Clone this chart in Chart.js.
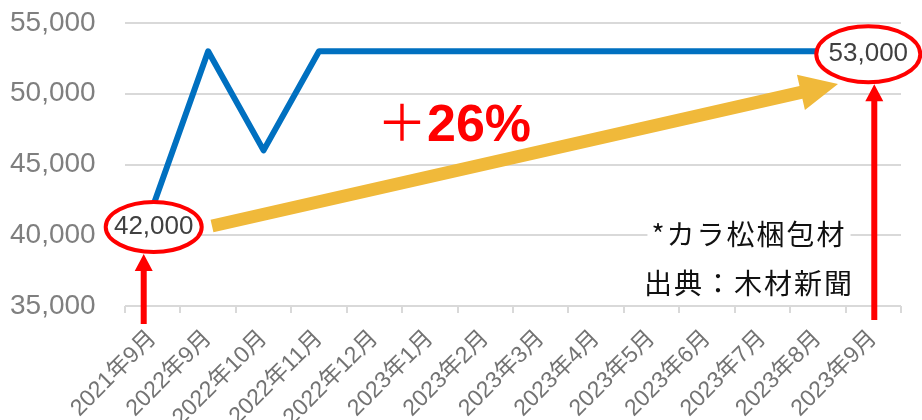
<!DOCTYPE html>
<html>
<head>
<meta charset="utf-8">
<script src="https://cdn.jsdelivr.net/npm/chart.js@4/dist/chart.umd.min.js"></script>
<style>
  html, body { margin: 0; padding: 0; background: #fff; }
  #wrap { width: 922px; height: 420px; }
</style>
</head>
<body>
<div id="wrap"><canvas id="price-chart"></canvas></div>
<script>
const months = ['2021年9月','2022年9月','2022年10月','2022年11月','2022年12月','2023年1月','2023年2月',
  '2023年3月','2023年4月','2023年5月','2023年6月','2023年7月','2023年8月','2023年9月'];
const prices = [42000, 53000, 46000, 53000, 53000, 53000, 53000, 53000, 53000, 53000, 53000, 53000, 53000, 53000];
const yTicks = [35000, 40000, 45000, 50000, 55000];
const labelled = [0, 13];
const notes = ['*カラ松梱包材', '出典：木材新聞'];
const growth = '26%';

const JP = '"Liberation Sans", Arial, "Noto Sans CJK JP", sans-serif';
const fmt = v => v.toLocaleString('en-US');

function arrow(ctx, x1, y1, x2, y2, shaft, headW, headL, color) {
  const ang = Math.atan2(y2 - y1, x2 - x1);
  const len = Math.hypot(x2 - x1, y2 - y1);
  ctx.save();
  ctx.translate(x1, y1);
  ctx.rotate(ang);
  ctx.fillStyle = color;
  ctx.beginPath();
  ctx.moveTo(0, -shaft / 2);
  ctx.lineTo(len - headL, -shaft / 2);
  ctx.lineTo(len - headL, -headW);
  ctx.lineTo(len, 0);
  ctx.lineTo(len - headL, headW);
  ctx.lineTo(len - headL, shaft / 2);
  ctx.lineTo(0, shaft / 2);
  ctx.closePath();
  ctx.fill();
  ctx.restore();
}

const annotate = {
  id: 'annotate',
  afterDatasetsDraw(chart) {
    const ctx = chart.ctx;
    const xs = chart.scales.x, ys = chart.scales.y;

    // yellow growth arrow
    arrow(ctx, 212, 226, 838, 84, 13, 18, 38, '#F0B93A');

    // labelled points: red ellipse + value + arrow from below
    const offs = { 0: [1, 20], 13: [-5, 3] };
    labelled.forEach(i => {
      const px = xs.getPixelForValue(i);
      const py = ys.getPixelForValue(prices[i]);
      const cx = px + offs[i][0], cy = py + offs[i][1];
      const rx = i === 0 ? 48 : 52, ry = i === 0 ? 25 : 28;
      ctx.save();
      ctx.beginPath();
      ctx.ellipse(cx, cy, rx, ry, 0, 0, Math.PI * 2);
      ctx.fillStyle = '#fff';
      ctx.fill();
      ctx.lineWidth = 4;
      ctx.strokeStyle = '#FF0000';
      ctx.stroke();
      ctx.fillStyle = '#404040';
      ctx.font = '26px ' + JP;
      ctx.textAlign = 'center';
      ctx.textBaseline = 'middle';
      ctx.fillText(fmt(prices[i]), cx, cy);
      ctx.restore();
      const ax = i === 0 ? px - 9 : px + 1;
      arrow(ctx, ax, i === 0 ? 324 : 320, ax, cy + ry + 2, 6, 9, 17, '#FF0000');
    });

    // +26%
    ctx.save();
    ctx.fillStyle = '#FF0000';
    ctx.textBaseline = 'alphabetic';
    ctx.textAlign = 'left';
    ctx.font = '50px "Noto Sans CJK JP", sans-serif';
    ctx.fillText('＋', 377, 141);
    ctx.font = 'bold 52px ' + JP;
    ctx.fillText(growth, 427, 141);
    ctx.restore();

    // notes
    ctx.save();
    ctx.font = '28px "Noto Sans CJK JP", sans-serif';
    ctx.letterSpacing = '2px';
    ctx.textAlign = 'center';
    ctx.textBaseline = 'middle';
    notes.forEach((t, k) => {
      const y = 234 + k * 49;
      const w = ctx.measureText(t).width;
      ctx.fillStyle = '#fff';
      ctx.fillRect(749 - w / 2 - 4, y - 15, w + 8, 30);
      ctx.fillStyle = '#111';
      ctx.fillText(t, 749, y);
    });
    ctx.restore();
  }
};

new Chart(document.getElementById('price-chart'), {
  type: 'line',
  data: {
    labels: months,
    datasets: [{
      data: prices,
      borderColor: '#0070C0',
      borderWidth: 6,
      borderJoinStyle: 'round',
      borderCapStyle: 'round',
      tension: 0,
      pointRadius: 0,
      fill: false
    }]
  },
  options: {
    responsive: true,
    maintainAspectRatio: false,
    animation: false,
    layout: { padding: { top: 23, right: 21, left: 10, bottom: 0 } },
    plugins: { legend: { display: false }, tooltip: { enabled: false } },
    scales: {
      x: {
        offset: true,
        grid: { offset: true, drawOnChartArea: false, drawTicks: true, tickLength: 7, color: '#d9d9d9', lineWidth: 2 },
        border: { display: false },
        ticks: {
          color: '#737373', font: { size: 23, family: JP },
          minRotation: 45, maxRotation: 45, padding: 12, autoSkip: false
        },
        afterFit: s => { s.height = 114; }
      },
      y: {
        min: yTicks[0], max: yTicks[yTicks.length - 1],
        afterBuildTicks: s => { s.ticks = yTicks.map(v => ({ value: v })); },
        grid: { color: '#d9d9d9', lineWidth: 2, drawTicks: false },
        border: { display: false },
        ticks: { color: '#7f7f7f', font: { size: 28, family: JP }, padding: 0, crossAlign: 'far', callback: v => fmt(v) },
        afterFit: s => { s.width = 115; }
      }
    }
  },
  plugins: [annotate]
});
</script>
</body>
</html>
